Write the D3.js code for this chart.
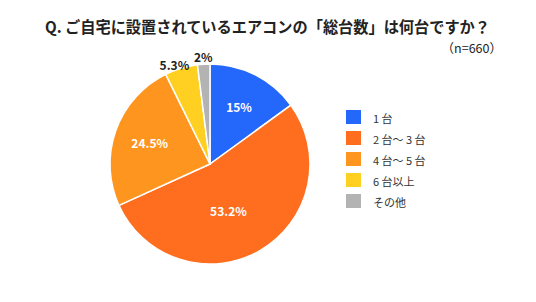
<!DOCTYPE html>
<html><head><meta charset="utf-8">
<script src="https://cdn.jsdelivr.net/npm/d3@7"></script>
<style>body{margin:0;background:#fff}svg{display:block}text{font-family:"Noto Sans CJK JP","Noto Sans",sans-serif}</style>
</head><body><svg id="c" width="536" height="302"></svg>
<script>
const categories = ["1 台", "2 台～ 3 台", "4 台～ 5 台", "6 台以上", "その他"];
const values = [15, 53.2, 24.5, 5.3, 2];
const labels = ["15%", "53.2%", "24.5%", "5.3%", "2%"];
const colors = ["#2467FB", "#FE6E1E", "#FE951F", "#FFD021", "#B3B3B3"];
const title = "Q.  ご自宅に設置されているエアコンの「総台数」は何台ですか？";
const note = "（n=660）";

const svg = d3.select("#c");
const cx = 210, cy = 164, R = 100;

svg.append("text").attr("x", 45).attr("y", 33).attr("font-size", 15.5).attr("font-weight", 700)
  .attr("fill", "#222").attr("textLength", 445).attr("lengthAdjust", "spacingAndGlyphs").text(title);
svg.append("text").attr("x", 502).attr("y", 53).attr("text-anchor", "end").attr("font-size", 12.5)
  .attr("fill", "#222").text(note);

const pie = d3.pie().sort(null).value(d => d)(values);
const arc = d3.arc().innerRadius(0).outerRadius(R);
const g = svg.append("g").attr("transform", `translate(${cx},${cy})`);
g.selectAll("path").data(pie).join("path")
  .attr("d", arc).attr("fill", (d, i) => colors[i])
  .attr("stroke", "#fff").attr("stroke-width", 1.5).attr("stroke-linejoin", "round");

g.selectAll("text.lbl").data(pie).join("text").attr("class", "lbl")
  .attr("transform", (d, i) => {
    let a = (d.startAngle + d.endAngle) / 2;
    const outside = d.value < 10;
    if (d.value > 50) a += 0.15;
    if (outside && d.value > 4) a -= 0.05;
    const r = outside ? R + (d.value < 4 ? 8 : 6) : (d.value > 50 ? 0.5 * R : 0.64 * R);
    return `translate(${r * Math.sin(a)},${-r * Math.cos(a)})`;
  })
  .attr("text-anchor", "middle").attr("dominant-baseline", "central")
  .attr("font-size", 12).attr("font-weight", 700)
  .attr("fill", d => d.value < 10 ? "#222" : "#fff")
  .text((d, i) => labels[i]);

const leg = svg.append("g").attr("transform", "translate(346,110)");
const rows = leg.selectAll("g").data(categories).join("g")
  .attr("transform", (d, i) => `translate(0,${i * 21})`);
rows.append("rect").attr("width", 15).attr("height", 14).attr("fill", (d, i) => colors[i]);
rows.append("text").attr("x", 27).attr("y", 7.5).attr("dominant-baseline", "central")
  .attr("font-size", 11).attr("fill", "#333").text(d => d);
</script></body></html>
